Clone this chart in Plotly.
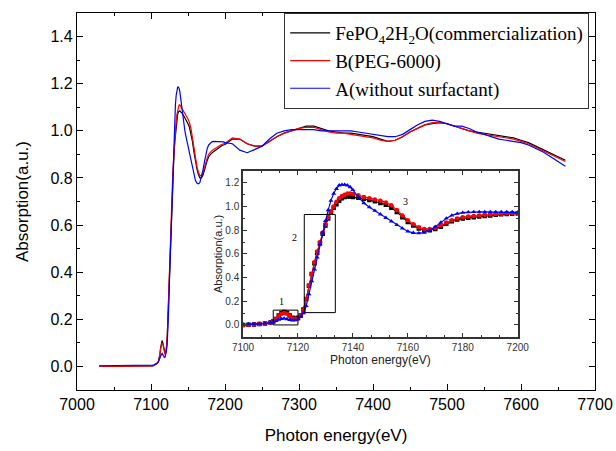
import plotly.graph_objects as go

# ---------------- data ----------------
E_pre = [7030, 7040, 7050, 7060, 7070, 7080, 7090]
F_pre = [0.0, 0.0, 0.0, 0.0, 0.0, 0.0, 0.0]
B_pre = [0.0, 0.0, 0.0, 0.0, 0.0, 0.0, 0.0]
A_pre = [0.003, 0.003, 0.003, 0.003, 0.003, 0.004, 0.004]

E_xanes = [7100, 7102, 7104, 7106, 7108, 7110, 7111, 7112, 7113, 7114, 7115, 7116,
           7117, 7118, 7119, 7120, 7121, 7122, 7123, 7124, 7125, 7126, 7127, 7128,
           7129, 7130, 7131, 7132, 7133, 7134, 7135, 7136, 7137, 7138, 7139, 7140,
           7142, 7144, 7146, 7148, 7150, 7152, 7154, 7156, 7158, 7160, 7162, 7164,
           7166, 7168, 7170, 7172, 7174, 7176, 7178, 7180, 7182, 7184, 7186, 7188,
           7190, 7192, 7194, 7196, 7198, 7200]
F_xanes = [0.000, 0.002, 0.004, 0.007, 0.012, 0.020, 0.030, 0.050, 0.080, 0.100, 0.110, 0.100,
           0.080, 0.060, 0.055, 0.060, 0.080, 0.130, 0.220, 0.330, 0.430, 0.520, 0.610, 0.690,
           0.770, 0.840, 0.900, 0.950, 0.990, 1.020, 1.050, 1.070, 1.080, 1.085, 1.085, 1.080,
           1.075, 1.065, 1.055, 1.045, 1.030, 1.015, 0.990, 0.955, 0.910, 0.870, 0.840, 0.815,
           0.800, 0.800, 0.810, 0.830, 0.855, 0.875, 0.890, 0.900, 0.905, 0.910, 0.915, 0.920,
           0.925, 0.930, 0.935, 0.938, 0.940, 0.942]
B_xanes = [0.000, 0.002, 0.004, 0.007, 0.012, 0.020, 0.030, 0.050, 0.075, 0.095, 0.100, 0.095,
           0.075, 0.055, 0.050, 0.055, 0.080, 0.130, 0.220, 0.330, 0.430, 0.530, 0.620, 0.700,
           0.780, 0.850, 0.910, 0.960, 1.000, 1.040, 1.070, 1.090, 1.100, 1.110, 1.110, 1.105,
           1.095, 1.080, 1.070, 1.060, 1.050, 1.035, 1.010, 0.970, 0.925, 0.885, 0.850, 0.825,
           0.810, 0.810, 0.820, 0.840, 0.865, 0.885, 0.900, 0.910, 0.915, 0.920, 0.925, 0.930,
           0.933, 0.936, 0.940, 0.943, 0.945, 0.947]
A_xanes = [0.005, 0.006, 0.007, 0.009, 0.013, 0.020, 0.025, 0.035, 0.045, 0.052, 0.055, 0.050,
           0.043, 0.038, 0.040, 0.050, 0.070, 0.100, 0.160, 0.260, 0.370, 0.470, 0.570, 0.680,
           0.780, 0.880, 0.970, 1.050, 1.110, 1.150, 1.180, 1.185, 1.185, 1.180, 1.165, 1.140,
           1.080, 1.030, 0.995, 0.965, 0.935, 0.905, 0.875, 0.845, 0.815, 0.790, 0.778, 0.775,
           0.780, 0.800, 0.830, 0.865, 0.900, 0.925, 0.940, 0.948, 0.952, 0.955, 0.955, 0.955,
           0.955, 0.955, 0.955, 0.955, 0.953, 0.950]

E_exafs = [7210, 7220, 7230, 7240, 7250, 7260, 7270, 7280, 7290, 7300, 7310, 7320,
           7330, 7340, 7350, 7360, 7370, 7380, 7390, 7400, 7410, 7420, 7430, 7440,
           7450, 7460, 7470, 7480, 7490, 7500, 7510, 7520, 7530, 7540, 7550, 7560,
           7570, 7580, 7590, 7600, 7610, 7620, 7630, 7640, 7650, 7660]
F_exafs = [0.965, 0.965, 0.945, 0.935, 0.935, 0.955, 0.975, 0.990, 1.000, 1.010, 1.020, 1.020,
           1.010, 1.000, 0.995, 0.990, 0.990, 0.985, 0.980, 0.975, 0.965, 0.955, 0.960, 0.975,
           0.995, 1.010, 1.025, 1.030, 1.035, 1.030, 1.020, 1.010, 1.000, 0.995, 0.990, 0.985,
           0.980, 0.975, 0.970, 0.960, 0.950, 0.935, 0.920, 0.905, 0.890, 0.875]
B_exafs = [0.970, 0.965, 0.945, 0.935, 0.935, 0.955, 0.975, 0.990, 1.000, 1.010, 1.015, 1.015,
           1.005, 0.995, 0.990, 0.990, 0.985, 0.980, 0.975, 0.970, 0.960, 0.955, 0.960, 0.975,
           0.995, 1.010, 1.025, 1.035, 1.035, 1.030, 1.020, 1.010, 1.000, 0.990, 0.985, 0.980,
           0.975, 0.970, 0.965, 0.955, 0.945, 0.930, 0.915, 0.900, 0.885, 0.870]
A_exafs = [0.945, 0.918, 0.907, 0.920, 0.935, 0.965, 0.990, 1.000, 1.005, 1.005, 1.005, 1.005,
           1.000, 1.000, 1.000, 1.000, 1.000, 0.995, 0.990, 0.985, 0.980, 0.975, 0.975, 0.985,
           1.005, 1.025, 1.040, 1.045, 1.040, 1.030, 1.020, 1.020, 1.010, 0.995, 0.985, 0.975,
           0.965, 0.960, 0.955, 0.950, 0.940, 0.925, 0.910, 0.890, 0.870, 0.850]

names = ["FePO<sub>4</sub>2H<sub>2</sub>O(commercialization)", "B(PEG-6000)", "A(without surfactant)"]
colors = ["#000000", "#ff0000", "#0000ff"]
symbols = ["square", "circle", "triangle-up"]

# inset annotations: (x, y, text)
box_labels = [(7114, 0.20, "1"), (7118.7, 0.74, "2"), (7159, 1.04, "3")]
boxes = [(7111, 0.0, 7120, 0.125), (7122.3, 0.104, 7133.6, 0.933)]

E_main = E_pre + E_xanes + E_exafs
series_main = [F_pre + F_xanes + F_exafs, B_pre + B_xanes + B_exafs, A_pre + A_xanes + A_exafs]
series_inset = [F_xanes, B_xanes, A_xanes]

fig = go.Figure()
for name, col, ys in zip(names, colors, series_main):
    fig.add_trace(go.Scatter(x=E_main, y=ys, mode="lines", name=name,
                             line=dict(color=col, width=1.2), xaxis="x", yaxis="y"))
for name, col, sym, ys in zip(names, colors, symbols, series_inset):
    fig.add_trace(go.Scatter(x=E_xanes, y=ys, mode="lines+markers", name=name, showlegend=False,
                             line=dict(color=col, width=1.2),
                             marker=dict(color=col, symbol=sym, size=4.5),
                             xaxis="x2", yaxis="y2"))

for (x0, y0, x1, y1) in boxes:
    fig.add_shape(type="rect", xref="x2", yref="y2", x0=x0, y0=y0, x1=x1, y1=y1,
                  line=dict(color="black", width=1), fillcolor="rgba(0,0,0,0)")
for (x, y, t) in box_labels:
    fig.add_annotation(x=x, y=y, xref="x2", yref="y2", text=t, showarrow=False,
                       font=dict(family="Liberation Serif", size=10, color="black"))

sans = "Liberation Sans, Arial"
main_ax = dict(showline=True, linecolor="black", linewidth=1.3, mirror="ticks",
               ticks="inside", ticklen=6, tickwidth=1.2, tickcolor="black",
               showgrid=False, zeroline=False, automargin=False,
               tickfont=dict(family=sans, size=16, color="black"))
fig.update_layout(
    width=616, height=451,
    margin=dict(l=77, r=21, t=13, b=61, autoexpand=False),
    paper_bgcolor="white", plot_bgcolor="white",
    xaxis=dict(main_ax, range=[7000, 7700], tick0=7000, dtick=100,
               minor=dict(dtick=50, ticklen=3, ticks="inside", tickcolor="black"),
               title=dict(text="Photon energy(eV)", font=dict(family=sans, size=17, color="black"),
                          standoff=16)),
    yaxis=dict(main_ax, range=[-0.1, 1.5], tick0=0, dtick=0.2, tickformat=".1f",
               minor=dict(dtick=0.1, ticklen=3, ticks="inside", tickcolor="black"),
               title=dict(text="Absorption(a.u.)", font=dict(family=sans, size=17, color="black"),
                          standoff=17)),
    xaxis2=dict(domain=[0.3205, 0.8508], anchor="y2", range=[7100, 7200], tick0=7100, dtick=20,
                showline=True, linecolor="#333", linewidth=1.5, mirror="ticks", automargin=False,
                ticks="inside", ticklen=4, tickcolor="#333", showgrid=False, zeroline=False,
                minor=dict(dtick=20 / 3, ticklen=2, ticks="inside", tickcolor="#333"),
                tickfont=dict(family=sans, size=10, color="#333"),
                title=dict(text="Photon energy(eV)", font=dict(family=sans, size=12, color="#222"),
                           standoff=1)),
    yaxis2=dict(domain=[0.1412, 0.5808], anchor="x2", range=[-0.1, 1.3], tick0=0, dtick=0.2,
                tickformat=".1f", automargin=False,
                showline=True, linecolor="#333", linewidth=1.5, mirror="ticks",
                ticks="inside", ticklen=4, tickcolor="#333", showgrid=False, zeroline=False,
                minor=dict(dtick=0.1, ticklen=2, ticks="inside", tickcolor="#333"),
                tickfont=dict(family=sans, size=10, color="#333"),
                title=dict(text="Absorption(a.u.)", font=dict(family=sans, size=11, color="#222"),
                           standoff=0)),
    legend=dict(x=0.40, y=1.0, xanchor="left", yanchor="top",
                bgcolor="white", bordercolor="#333", borderwidth=1,
                font=dict(family="Liberation Serif", size=19, color="black"),
                itemwidth=40, tracegroupgap=0),
    showlegend=True,
)

fig.write_html("out.html")
